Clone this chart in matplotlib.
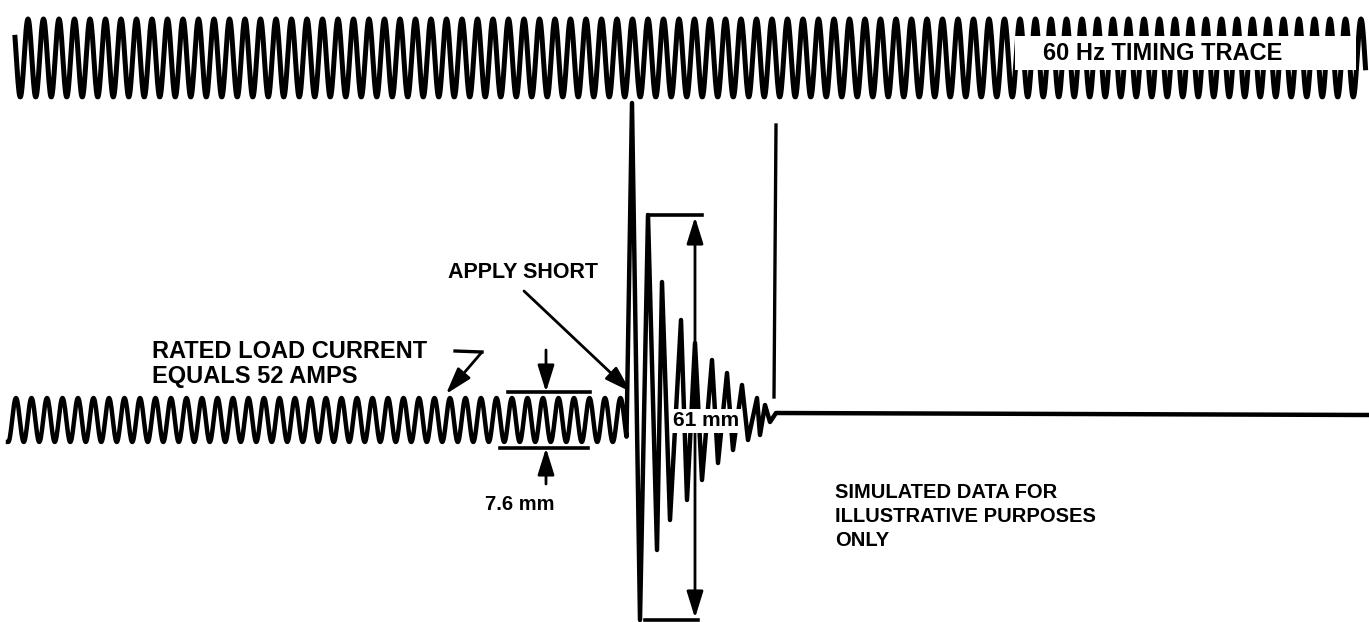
import numpy as np
import matplotlib.pyplot as plt
from matplotlib.patches import Rectangle

plt.rcParams['font.family'] = ['Liberation Sans', 'DejaVu Sans']

# oscillograph traces, in chart units (x right, y down)
period = 15.5                       # one 60 Hz cycle on the paper

timing_start, timing_end = 15, 1366
timing_mid, timing_amp = 58, 39
timing_phase = 28                   # first crest

load_start, load_end = 8, 627
load_mid, load_amp = 420, 22
load_phase = 16

# fault current turning points after the short is applied
fault_x = [632, 640, 648, 657, 662, 670, 681, 687, 695, 702, 712, 718,
           727, 733, 742, 748, 757, 760, 765, 770, 776]
fault_y = [103, 620, 215, 550, 282, 520, 320, 500, 343, 480, 360, 463,
           373, 450, 385, 440, 398, 435, 405, 422, 413]
flat_end = (1369, 415)

# breaker-open mark
mark_x = [776, 774]
mark_y = [125, 397]

fig = plt.figure(figsize=(13.69, 6.22), dpi=100)
ax = fig.add_axes([0, 0, 1, 1])
ax.set_xlim(0, 1369)
ax.set_ylim(622, 0)
ax.axis('off')

# timing trace
tx = np.arange(timing_start, timing_end, 0.5)
ty = timing_mid - timing_amp * np.cos(2 * np.pi * (tx - timing_phase) / period)
ax.plot(tx, ty, color='black', lw=3.6, solid_joinstyle='round')
ax.add_patch(Rectangle((1015, 36), 341, 34, facecolor='white', edgecolor='none', zorder=3))
ax.text(1043, 53, '60 Hz TIMING TRACE', fontsize=17, fontweight='bold',
        va='center', ha='left', zorder=4)

# load current, then the short circuit
lx = np.arange(load_start, load_end, 0.5)
ly = load_mid - load_amp * np.cos(2 * np.pi * (lx - load_phase) / period)
cx = list(lx) + fault_x + [flat_end[0]]
cy = list(ly) + fault_y + [flat_end[1]]
ax.plot(cx, cy, color='black', lw=3.2, solid_joinstyle='round')
ax.plot(mark_x, mark_y, color='black', lw=2.4)

arrow = dict(arrowstyle='-|>,head_length=0.9,head_width=0.28', color='black',
             lw=2.0, shrinkA=0, shrinkB=0, mutation_scale=18)

# 7.6 mm peak-to-peak
ax.plot([508, 590], [392, 392], color='black', lw=2.6)
ax.plot([500, 588], [448, 448], color='black', lw=2.6)
ax.annotate('', xy=(546, 392), xytext=(546, 350), arrowprops=arrow)
ax.annotate('', xy=(546, 448), xytext=(546, 484), arrowprops=arrow)
ax.text(485, 505, '7.6 mm', fontsize=14.5, fontweight='bold', va='center', ha='left')

# 61 mm peak-to-peak
ax.plot([648, 702], [215, 215], color='black', lw=2.6)
ax.plot([645, 698], [620, 620], color='black', lw=2.6)
ax.annotate('', xy=(695, 217), xytext=(695, 410), arrowprops=arrow)
ax.annotate('', xy=(695, 618), xytext=(695, 430), arrowprops=arrow)
ax.text(706, 421, '61 mm', fontsize=15, fontweight='bold', va='center', ha='center',
        bbox=dict(facecolor='white', edgecolor='none', pad=2.0), zorder=5)

# labels
ax.text(448, 273, 'APPLY SHORT', fontsize=15.5, fontweight='bold', va='center', ha='left')
ax.annotate('', xy=(631, 392), xytext=(524, 291), arrowprops=arrow)

ax.text(152, 352, 'RATED LOAD CURRENT', fontsize=17, fontweight='bold', va='center', ha='left')
ax.text(152, 376, 'EQUALS 52 AMPS', fontsize=17, fontweight='bold', va='center', ha='left')
ax.plot([455, 482], [351, 352], color='black', lw=2.4)
ax.annotate('', xy=(446, 394), xytext=(482, 352), arrowprops=arrow)

ax.text(835, 493, 'SIMULATED DATA FOR', fontsize=14.5, fontweight='bold', va='center', ha='left')
ax.text(835, 517, 'ILLUSTRATIVE PURPOSES', fontsize=14.5, fontweight='bold', va='center', ha='left')
ax.text(835, 541, 'ONLY', fontsize=14.5, fontweight='bold', va='center', ha='left')

fig.savefig('out.png', dpi=100, facecolor='white')
